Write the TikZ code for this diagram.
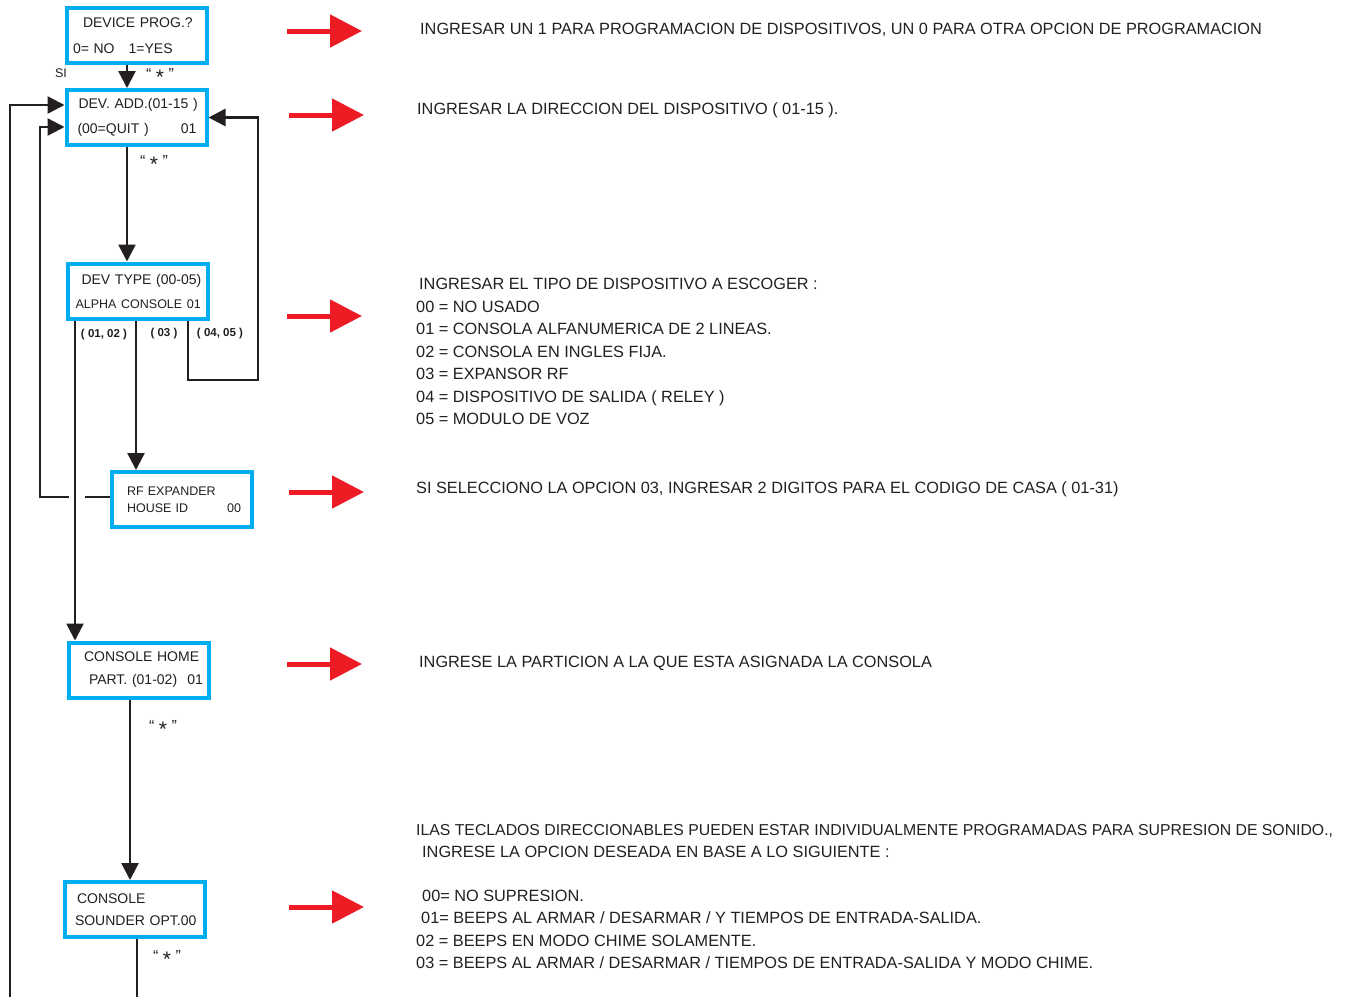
\documentclass[tikz,border=0pt]{standalone}
\usepackage{fontspec}
\setmainfont{Liberation Sans}
\usetikzlibrary{positioning, arrows.meta}
\definecolor{boxblue}{RGB}{0,174,239}
\definecolor{arrowred}{RGB}{237,28,36}
\definecolor{ink}{RGB}{35,31,32}

\begin{document}
\begin{tikzpicture}[x=1pt, y=-1pt, >={Triangle[length=17pt, width=17pt]},
      menu/.style={draw=boxblue, line width=4pt, fill=white, minimum width=140pt, minimum height=55pt, inner sep=2pt, text width=128pt, align=left, text=ink, font=\fontsize{14}{25}\selectfont},
      flow/.style={draw=ink, line width=2.5pt},
      hint/.style={draw=arrowred, line width=5pt, -{Triangle[length=32pt, width=32pt]}},
      note/.style={inner sep=0pt, align=left, text=ink, font=\fontsize{16.3}{22.5}\selectfont},
      star/.style={text=ink, font=\fontsize{16}{16}\selectfont},
      branch/.style={text=ink, font=\bfseries\fontsize{11.5}{11.5}\selectfont}]
    \useasboundingbox (0,0) rectangle (1351,997);

    % menu boxes
    \node[menu] (prog) at (137,35.5) {\hspace*{10pt}DEVICE PROG.?\\[1pt]0= NO\hspace{14pt}1=YES};
    \node[menu] (add) at (136.5,117.5) {\hspace*{6pt}DEV. ADD.(01-15 )\\\hspace*{5pt}(00=QUIT )\hfill 01\hspace*{4pt}};
    \node[menu, font=\fontsize{14}{24}\selectfont] (type) at (137.5,291) {\hspace*{8pt}DEV TYPE (00-05)\\\mbox{\hspace*{2pt}\fontsize{12.5}{12}\selectfont ALPHA CONSOLE 01}};
    \node[menu, font=\fontsize{12.5}{17}\selectfont] (rf) at (182,499.5) {\hspace*{9pt}RF EXPANDER\\\hspace*{9pt}HOUSE ID\hfill 00\hspace*{5pt}};
    \node[menu, font=\fontsize{14}{23}\selectfont] (home) at (139,670) {\hspace*{9pt}CONSOLE HOME\\\hspace*{14pt}PART. (01-02)\hfill 01};
    \node[menu, font=\fontsize{14}{22}\selectfont] (sound) at (135,909.5) {\hspace*{6pt}CONSOLE\\\hspace*{4pt}SOUNDER OPT.00};

    % flow lines
    \draw[flow, ->] ([xshift=-10pt]prog.south) -- ([xshift=-10pt]prog.south |- add.north);
    \draw[flow, ->] ([xshift=-9.5pt]add.south) -- ([xshift=-9.5pt]add.south |- type.north);
    \draw[flow, ->] ([xshift=50.5pt]type.south) |- (258,380) |- (add.east);
    \draw[flow, ->] ([xshift=-1.5pt]type.south) -- ([xshift=-1.5pt]type.south |- rf.north);
    \draw[flow, ->] ([xshift=-62.5pt]type.south) -- ([xshift=-62.5pt]type.south |- home.north);
    \coordinate (gapR) at (85,497);
    \coordinate (gapL) at (69,497);
    \draw[flow] ([yshift=2.5pt]rf.west) -- (gapR);
    \draw[flow, ->] (gapL) -| (40,127) -- ([yshift=-9.5pt]add.west);
    \coordinate (loopbot) at (10,997);
    \draw[flow, ->] (loopbot) |- ([yshift=12.5pt]add.west);
    \draw[flow, ->] ([xshift=-9pt]home.south) -- ([xshift=-9pt]home.south |- sound.north);
    \coordinate (soundbot) at (137,997);
    \draw[flow] ([xshift=2pt]sound.south) -- (soundbot);

    % labels on the lines
    \node[star] (s1) at (160,76) {“\ \raisebox{-5pt}{\fontsize{21}{21}\selectfont *}\ ”};
    \node[star] (s2) at (154,163) {“\ \raisebox{-5pt}{\fontsize{21}{21}\selectfont *}\ ”};
    \node[star] (s3) at (163,728) {“\ \raisebox{-5pt}{\fontsize{21}{21}\selectfont *}\ ”};
    \node[star] (s4) at (167,958) {“\ \raisebox{-5pt}{\fontsize{21}{21}\selectfont *}\ ”};
    \node[text=ink, font=\fontsize{12.5}{12}\selectfont] (si) at (61,73) {SI};
    \node[branch] (b1) at (104,335) {( 01, 02 )};
    \node[branch] (b2) at (164,334) {( 03 )};
    \node[branch] (b3) at (220,334) {( 04, 05 )};

    % red pointers
    \coordinate (p1) at (287,31);
    \coordinate (p2) at (289,115);
    \coordinate (p3) at (287,316);
    \coordinate (p4) at (289,492);
    \coordinate (p5) at (287,664);
    \coordinate (p6) at (289,907);
    \draw[hint] (p1) -- ++(75,0);
    \draw[hint] (p2) -- ++(75,0);
    \draw[hint] (p3) -- ++(75,0);
    \draw[hint] (p4) -- ++(75,0);
    \draw[hint] (p5) -- ++(75,0);
    \draw[hint] (p6) -- ++(75,0);

    % explanations
    \node[note, anchor=west] (t1) at (420,30) {INGRESAR UN 1 PARA PROGRAMACION DE DISPOSITIVOS, UN 0 PARA OTRA OPCION DE PROGRAMACION};
    \node[note, anchor=west] (t2) at (417,110) {INGRESAR LA DIRECCION DEL DISPOSITIVO ( 01-15 ).};
    \node[note, anchor=north west] (t3) at (416,278) {\hspace*{3pt}INGRESAR EL TIPO DE DISPOSITIVO A ESCOGER :\\00 = NO USADO\\01 = CONSOLA ALFANUMERICA DE 2 LINEAS.\\02 = CONSOLA EN INGLES FIJA.\\03 = EXPANSOR RF\\04 = DISPOSITIVO DE SALIDA ( RELEY )\\05 = MODULO DE VOZ};
    \node[note, anchor=west] (t4) at (416,489) {SI SELECCIONO LA OPCION 03, INGRESAR 2 DIGITOS PARA EL CODIGO DE CASA ( 01-31)};
    \node[note, anchor=west] (t5) at (419,663) {INGRESE LA PARTICION A LA QUE ESTA ASIGNADA LA CONSOLA};
    \node[note, anchor=north west] (t6) at (416,824) {{\fontsize{15.8}{22.5}\selectfont ILAS TECLADOS DIRECCIONABLES PUEDEN ESTAR INDIVIDUALMENTE PROGRAMADAS PARA SUPRESION DE SONIDO.,}\\\hspace*{6pt}INGRESE LA OPCION DESEADA EN BASE A LO SIGUIENTE :\\[21pt]\hspace*{6pt}00= NO SUPRESION.\\\hspace*{5pt}01= BEEPS AL ARMAR / DESARMAR / Y TIEMPOS DE ENTRADA-SALIDA.\\02 = BEEPS EN MODO CHIME SOLAMENTE.\\03 = BEEPS AL ARMAR / DESARMAR / TIEMPOS DE ENTRADA-SALIDA Y MODO CHIME.};
  \end{tikzpicture}
\end{document}
